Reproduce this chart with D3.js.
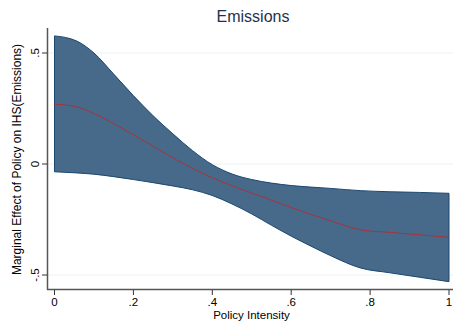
<!DOCTYPE html>
<html><head><meta charset="utf-8">
<script src="https://cdn.jsdelivr.net/npm/d3@7"></script>
<style>body{margin:0;background:#fff}svg{display:block;font-family:"Liberation Sans",Arial,sans-serif}</style>
</head><body><svg id="c" width="453" height="332"></svg>
<script>
const xVals = [0,0.055,0.1,0.15,0.2,0.25,0.3,0.35,0.4,0.45,0.5,0.55,0.6,0.65,0.7,0.775,0.85,0.925,1];
const upper = [0.577,0.555,0.50,0.405,0.308,0.217,0.136,0.06,-0.003,-0.045,-0.07,-0.086,-0.097,-0.104,-0.11,-0.12,-0.125,-0.128,-0.132];
const effect = [0.269,0.258,0.228,0.182,0.132,0.080,0.028,-0.020,-0.062,-0.098,-0.131,-0.163,-0.196,-0.227,-0.256,-0.296,-0.308,-0.319,-0.330];
const lower = [-0.035,-0.04,-0.046,-0.057,-0.07,-0.084,-0.099,-0.116,-0.142,-0.18,-0.225,-0.276,-0.325,-0.37,-0.413,-0.468,-0.49,-0.51,-0.53];
const xTicks = [0,0.2,0.4,0.6,0.8,1];
const xTickLabels = ["0",".2",".4",".6",".8","1"];
const yTicks = [-0.5,0,0.5];
const yTickLabels = ["-.5","0",".5"];

const svg = d3.select("#c");
const x = d3.scaleLinear().domain([0,1]).range([54.5,449]);
const y = d3.scaleLinear().domain([-0.5,0.5]).range([275,53]);
const data = xVals.map((v,i)=>({x:v,u:upper[i],m:effect[i],l:lower[i]}));

// gridlines
svg.append("g").selectAll("line").data(yTicks).join("line")
  .attr("x1",47).attr("x2",453).attr("y1",d=>y(d)).attr("y2",d=>y(d))
  .attr("stroke","#eaf2f3").attr("stroke-width",1);

// band
const area = d3.area().x(d=>x(d.x)).y0(d=>y(d.l)).y1(d=>y(d.u)).curve(d3.curveMonotoneX);
svg.append("path").datum(data).attr("d",area)
  .attr("fill","#476a8b").attr("stroke","#1a476f").attr("stroke-width",1);

// line
const line = d3.line().x(d=>x(d.x)).y(d=>y(d.m)).curve(d3.curveMonotoneX);
svg.append("path").datum(data).attr("d",line)
  .attr("fill","none").attr("stroke","#a8323b").attr("stroke-width",1);

// axes
const axCol = "#555";
svg.append("line").attr("x1",47.5).attr("x2",47.5).attr("y1",28).attr("y2",290).attr("stroke",axCol).attr("stroke-width",1.5);
svg.append("line").attr("x1",47).attr("x2",453).attr("y1",289.5).attr("y2",289.5).attr("stroke",axCol).attr("stroke-width",1.5);

const xa = svg.append("g");
xa.selectAll("line").data(xTicks).join("line")
  .attr("x1",d=>x(d)).attr("x2",d=>x(d)).attr("y1",290).attr("y2",295)
  .attr("stroke","#333").attr("stroke-width",1);
xa.selectAll("text").data(xTicks).join("text")
  .attr("x",d=>x(d)).attr("y",306).attr("text-anchor","middle")
  .attr("font-size",11.5).attr("fill","#000").text((d,i)=>xTickLabels[i]);

const ya = svg.append("g");
ya.selectAll("line").data(yTicks).join("line")
  .attr("x1",42).attr("x2",47).attr("y1",d=>y(d)).attr("y2",d=>y(d))
  .attr("stroke","#333").attr("stroke-width",1);
ya.selectAll("text").data(yTicks).join("text")
  .attr("transform",d=>`translate(39,${y(d)}) rotate(-90)`)
  .attr("text-anchor","middle").attr("font-size",11.5).attr("fill","#000")
  .text((d,i)=>yTickLabels[i]);

svg.append("text").attr("x",251.5).attr("y",319).attr("text-anchor","middle")
  .attr("font-size",11.5).attr("fill","#000").text("Policy Intensity");
svg.append("text").attr("transform","translate(21,159.5) rotate(-90)")
  .attr("text-anchor","middle").attr("font-size",12).attr("fill","#000")
  .text("Marginal Effect of Policy on IHS(Emissions)");
svg.append("text").attr("x",253).attr("y",22).attr("text-anchor","middle")
  .attr("font-size",16).attr("fill","#1e3250").text("Emissions");
</script></body></html>
